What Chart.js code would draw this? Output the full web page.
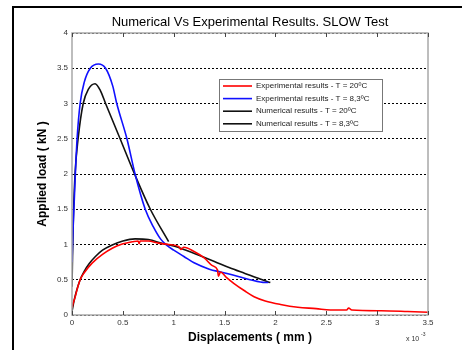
<!DOCTYPE html>
<html>
<head>
    <title>Numerical Vs Experimental Results. SLOW Test</title>
    <meta charset="utf-8" />
    <script src="https://cdn.jsdelivr.net/npm/chart.js"></script>
    <style>
        body { margin: 0; background: #fff; font-family: "Liberation Sans", Arial, sans-serif; }
        #wrap { position: relative; width: 462px; height: 350px; }
        #frame { position: absolute; left: 12px; top: 6px; right: 0; bottom: 0; border-left: 2px solid #000; border-top: 2px solid #000; }
        canvas { position: absolute; left: 0; top: 0; }
    </style>
</head>
<body>
    <div id="wrap">
        <div id="frame"></div>
        <canvas id="myChart" width="462" height="350"></canvas>
    </div>
    <script>
        // displacement in units of 1e-3 mm, load in kN
        var redX = [0, 0.01, 0.03, 0.05, 0.08, 0.12, 0.2, 0.3, 0.4, 0.48, 0.6, 0.65, 0.66, 0.67, 0.75, 0.85, 0.95, 1.05, 1.07, 1.1, 1.2, 1.3, 1.38, 1.43, 1.44, 1.46, 1.52, 1.59, 1.7, 1.79, 1.9, 2.05, 2.22, 2.4, 2.54, 2.7, 2.72, 2.75, 3.04, 3.3, 3.5];
        var redY = [0.1, 0.16, 0.25, 0.36, 0.5, 0.6, 0.74, 0.86, 0.95, 1.0, 1.04, 1.05, 1.01, 1.05, 1.05, 1.02, 1.0, 0.97, 0.93, 0.96, 0.9, 0.81, 0.7, 0.64, 0.55, 0.61, 0.53, 0.45, 0.34, 0.26, 0.2, 0.15, 0.11, 0.09, 0.07, 0.07, 0.1, 0.07, 0.06, 0.05, 0.04];

        var blueX = [0, 0.01, 0.03, 0.05, 0.08, 0.12, 0.18, 0.26, 0.33, 0.4, 0.44, 0.54, 0.62, 0.72, 0.8, 0.87, 0.93, 1.0, 1.1, 1.2, 1.35, 1.46, 1.6, 1.75, 1.9, 1.93];
        var blueY = [0.75, 1.2, 1.9, 2.5, 3.0, 3.3, 3.5, 3.56, 3.5, 3.25, 3.0, 2.5, 2.0, 1.5, 1.25, 1.08, 0.99, 0.92, 0.83, 0.74, 0.65, 0.61, 0.56, 0.5, 0.46, 0.46];

        var num20X = [0, 0.02, 0.04, 0.08, 0.12, 0.17, 0.23, 0.3, 0.39, 0.5, 0.62, 0.75, 0.9, 1.0, 1.1, 1.26, 1.4, 1.55, 1.7, 1.85, 1.95];
        var num20Y = [0.05, 0.2, 0.32, 0.5, 0.62, 0.73, 0.83, 0.92, 0.99, 1.05, 1.08, 1.07, 1.01, 0.98, 0.93, 0.84, 0.76, 0.67, 0.59, 0.51, 0.46];

        var num83X = [0, 0.01, 0.03, 0.06, 0.11, 0.16, 0.227, 0.28, 0.33, 0.473, 0.615, 0.77, 0.95];
        var num83Y = [0.4, 1.2, 2.0, 2.5, 3.0, 3.2, 3.28, 3.18, 3.0, 2.5, 2.0, 1.5, 1.04];

        var seriesNames = ['Experimental results - T = 20ºC', 'Experimental results - T = 8,3ºC', 'Numerical results - T = 20ºC', 'Numerical results - T = 8,3ºC'];
        var seriesColors = ['#ff0000', '#1010ff', '#111111', '#111111'];
        var xTicks = [0, 0.5, 1, 1.5, 2, 2.5, 3, 3.5];
        var yTicks = [0, 0.5, 1, 1.5, 2, 2.5, 3, 3.5, 4];
        var chartTitle = 'Numerical Vs Experimental Results. SLOW Test';

        function pts(xs, ys) {
            return xs.map(function (x, i) { return { x: x, y: ys[i] }; });
        }

        var allX = [redX, blueX, num20X, num83X];
        var allY = [redY, blueY, num20Y, num83Y];
        var datasets = seriesNames.map(function (name, i) {
            return {
                label: name,
                data: pts(allX[i], allY[i]),
                borderColor: seriesColors[i],
                borderWidth: 1.6,
                pointRadius: 0,
                showLine: true,
                cubicInterpolationMode: 'monotone',
                fill: false
            };
        });

        var font = '"Liberation Sans", Arial, sans-serif';

        // title, box, inner ticks, legend and exponent label
        var extras = {
            id: 'extras',
            afterDraw: function (chart) {
                var ctx = chart.ctx, a = chart.chartArea;
                var xs = chart.scales.x;
                ctx.save();
                ctx.fillStyle = '#000';
                ctx.font = '13px ' + font;
                ctx.textAlign = 'center';
                ctx.textBaseline = 'middle';
                ctx.fillText(chartTitle, (a.left + a.right) / 2, 22);
                ctx.textAlign = 'left';

                ctx.strokeStyle = '#a8a8a8';
                ctx.lineWidth = 1.5;
                ctx.strokeRect(a.left, a.top, a.right - a.left, a.bottom - a.top);
                ctx.strokeStyle = '#444';
                ctx.lineWidth = 1;
                xTicks.forEach(function (v) {
                    var px = Math.round(xs.getPixelForValue(v)) + 0.5;
                    ctx.beginPath();
                    ctx.moveTo(px, a.bottom); ctx.lineTo(px, a.bottom - 4);
                    ctx.moveTo(px, a.top); ctx.lineTo(px, a.top + 4);
                    ctx.stroke();
                });

                // legend
                var lx = a.left + 147, ly = a.top + 46, lw = 163, lh = 52;
                ctx.fillStyle = '#fff';
                ctx.fillRect(lx, ly, lw, lh);
                ctx.strokeStyle = '#777';
                ctx.lineWidth = 1;
                ctx.strokeRect(lx + 0.5, ly + 0.5, lw, lh);
                ctx.font = '8px ' + font;
                seriesNames.forEach(function (name, i) {
                    var yy = ly + 7 + i * 12.6;
                    ctx.strokeStyle = seriesColors[i];
                    ctx.lineWidth = 1.6;
                    ctx.beginPath();
                    ctx.moveTo(lx + 4, yy); ctx.lineTo(lx + 33, yy);
                    ctx.stroke();
                    ctx.fillStyle = '#222';
                    ctx.fillText(name, lx + 37, yy);
                });

                // x 10^-3
                ctx.fillStyle = '#333';
                ctx.font = '7px ' + font;
                ctx.textBaseline = 'alphabetic';
                ctx.fillText('x 10', a.right - 22, 341);
                ctx.font = '5px ' + font;
                ctx.fillText('-3', a.right - 7, 336);
                ctx.restore();
            }
        };

        var ctx = document.getElementById('myChart').getContext('2d');
        var myChart = new Chart(ctx, {
            type: 'scatter',
            data: { datasets: datasets },
            plugins: [extras],
            options: {
                responsive: false,
                animation: false,
                layout: { padding: { top: 33, right: 34, left: 0, bottom: 0 } },
                plugins: {
                    legend: { display: false },
                    tooltip: { enabled: false },
                    title: { display: false }
                },
                scales: {
                    x: {
                        type: 'linear',
                        min: 0, max: 3.5,
                        afterBuildTicks: function (s) { s.ticks = xTicks.map(function (v) { return { value: v }; }); },
                        afterFit: function (s) { s.height = 35; },
                        grid: { display: false, drawTicks: false },
                        border: { display: false },
                        ticks: {
                            color: '#333', font: { family: font, size: 8 }, padding: 3, maxRotation: 0,
                            callback: function (v) { return String(v); }
                        },
                        title: {
                            display: true,
                            text: 'Displacements ( mm )',
                            color: '#000',
                            font: { family: font, size: 12, weight: 'bold' },
                            padding: { top: 2, bottom: 5 }
                        }
                    },
                    y: {
                        type: 'linear',
                        min: 0, max: 4,
                        afterBuildTicks: function (s) { s.ticks = yTicks.map(function (v) { return { value: v }; }); },
                        afterFit: function (s) { s.width = 72; },
                        grid: {
                            color: '#000',
                            lineWidth: 1,
                            drawTicks: false
                        },
                        border: { display: false, dash: [2, 2] },
                        ticks: {
                            color: '#333', font: { family: font, size: 8 }, padding: 4,
                            callback: function (v) { return String(v); }
                        },
                        title: {
                            display: true,
                            text: 'Applied load ( kN )',
                            color: '#000',
                            font: { family: font, size: 12, weight: 'bold' },
                            padding: { top: 35, bottom: 4 }
                        }
                    }
                }
            }
        });
    </script>
</body>
</html>
